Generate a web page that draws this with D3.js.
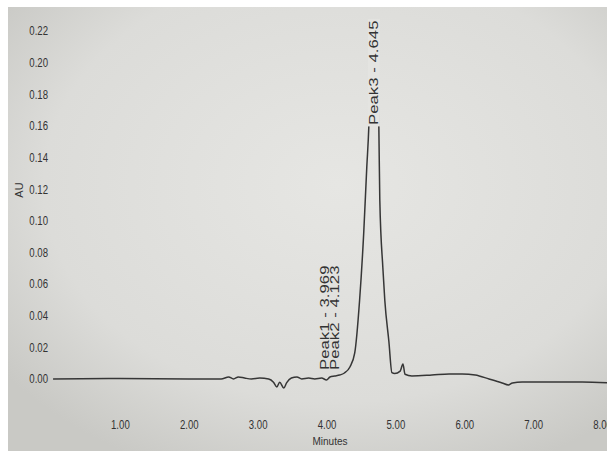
<!DOCTYPE html>
<html lang="en">
<head>
<meta charset="UTF-8">
<script src="https://d3js.org/d3.v7.min.js"></script>
<style>
  body { margin: 0; background: #fff; }
  text { font-family: "Liberation Sans", Arial, sans-serif; fill: #333; }
</style>
</head>
<body>
<script>
// retention time (minutes) and absorbance (AU)
let times = [0.03, 1.0, 2.0, 2.47, 2.58, 2.65, 2.72, 2.81, 2.91, 3.03, 3.16, 3.23, 3.28, 3.32, 3.38, 3.42,
    3.49, 3.57, 3.64, 3.74, 3.83, 3.93, 4.00, 4.05, 4.12, 4.19, 4.26, 4.34, 4.41, 4.48, 4.54, 4.585,
    4.614, 4.64, 4.66, 4.69, 4.73, 4.76, 4.774, 4.818, 4.847, 4.905, 4.95, 4.99, 5.07, 5.11, 5.14,
    5.24, 5.53, 5.78, 5.97, 6.16, 6.36, 6.55, 6.64, 6.70, 6.84, 7.23, 7.71, 8.12];
let absorbance = [0, 0.0003, 0, 0, 0.0013, 0, 0.0013, 0.0006, 0, 0.0006, 0, -0.002, -0.005, -0.002, -0.0057, -0.0025,
    0.0006, 0.0013, 0, 0.0006, 0, 0.0006, -0.0006, 0.0013, 0.0019, 0.0025, 0.0038, 0.0076, 0.0165, 0.0495, 0.092, 0.134,
    0.159, 0.20, 0.22, 0.22, 0.20, 0.159, 0.113, 0.0705, 0.0495, 0.024, 0.004, 0.0035, 0.005, 0.0095, 0.003,
    0.0019, 0.0025, 0.0032, 0.0032, 0.0025, 0.0, -0.0025, -0.0038, -0.0025, -0.0019, -0.0019, -0.0019, -0.0025];
let yTicks = [0, 0.02, 0.04, 0.06, 0.08, 0.10, 0.12, 0.14, 0.16, 0.18, 0.20, 0.22];
let xTicks = [1, 2, 3, 4, 5, 6, 7, 8];
let peakNames = ["Peak1 - 3.969", "Peak2 - 4.123", "Peak3 - 4.645"];
let peakTimes = [3.969, 4.123, 4.645];

let width = 607, height = 451;
let svg = d3.select("body").append("svg")
    .attr("width", width)
    .attr("height", height);

// photo paper background
let defs = svg.append("defs");
let grad = defs.append("radialGradient")
    .attr("id", "paper")
    .attr("cx", "55%").attr("cy", "40%").attr("r", "70%");
grad.append("stop").attr("offset", "0%").attr("stop-color", "#e6e6e3");
grad.append("stop").attr("offset", "70%").attr("stop-color", "#dcdcd9");
grad.append("stop").attr("offset", "100%").attr("stop-color", "#c9c9c5");
svg.append("rect")
    .attr("x", 8).attr("y", 7)
    .attr("width", width - 8).attr("height", height - 7)
    .attr("fill", "url(#paper)");

let x = d3.scaleLinear().domain([0, 8]).range([51, 602]);
let y = d3.scaleLinear().domain([0, 0.22]).range([379, 31]);

defs.append("clipPath").attr("id", "plot")
    .append("rect").attr("x", 8).attr("y", 7).attr("width", width).attr("height", 400);

let line = d3.line()
    .x((d, i) => x(times[i]))
    .y(d => y(d))
    .curve(d3.curveMonotoneX);

svg.append("path")
    .datum(absorbance)
    .attr("clip-path", "url(#plot)")
    .attr("d", line)
    .attr("fill", "none")
    .attr("stroke", "#363636")
    .attr("stroke-width", 1.5);

// axes: labels only, no lines
let yAxis = svg.append("g")
    .attr("transform", "translate(50,0)")
    .call(d3.axisLeft(y).tickValues(yTicks).tickSize(0).tickPadding(2).tickFormat(d3.format(".2f")));
let xAxis = svg.append("g")
    .attr("transform", "translate(0,416)")
    .call(d3.axisBottom(x).tickValues(xTicks).tickSize(0).tickPadding(4).tickFormat(d3.format(".2f")));
[yAxis, xAxis].forEach(a => {
    a.select(".domain").remove();
    a.attr("font-family", null);
    a.selectAll("text")
        .attr("font-size", 12)
        .attr("fill", "#333")
        .each(function () {
            // narrow print face
            let len = this.getComputedTextLength();
            d3.select(this).attr("textLength", len * 0.8).attr("lengthAdjust", "spacingAndGlyphs");
        });
});

svg.append("text")
    .attr("x", 330).attr("y", 445)
    .attr("text-anchor", "middle")
    .attr("font-size", 10)
    .text("Minutes");

svg.append("text")
    .attr("transform", "translate(23,190) rotate(-90)")
    .attr("text-anchor", "middle")
    .attr("font-size", 11)
    .text("AU");

// peak labels, vertical, stretched like the photographed print
let peakBase = [370, 370, 125];
let peakOffset = [5, 4, 7];
peakNames.forEach((name, i) => {
    let g = svg.append("g")
        .attr("transform", "translate(" + (x(peakTimes[i]) + peakOffset[i]) + "," + peakBase[i] + ") rotate(-90) scale(1.4,1)");
    let t = g.append("text")
        .attr("font-size", 12)
        .text(name);
    if (i == 2) {
        let len = t.node().getComputedTextLength();
        g.insert("rect", "text")
            .attr("x", -1).attr("y", -10)
            .attr("width", len + 2).attr("height", 12)
            .attr("fill", "#e4e4e1");
    }
});
</script>
</body>
</html>
